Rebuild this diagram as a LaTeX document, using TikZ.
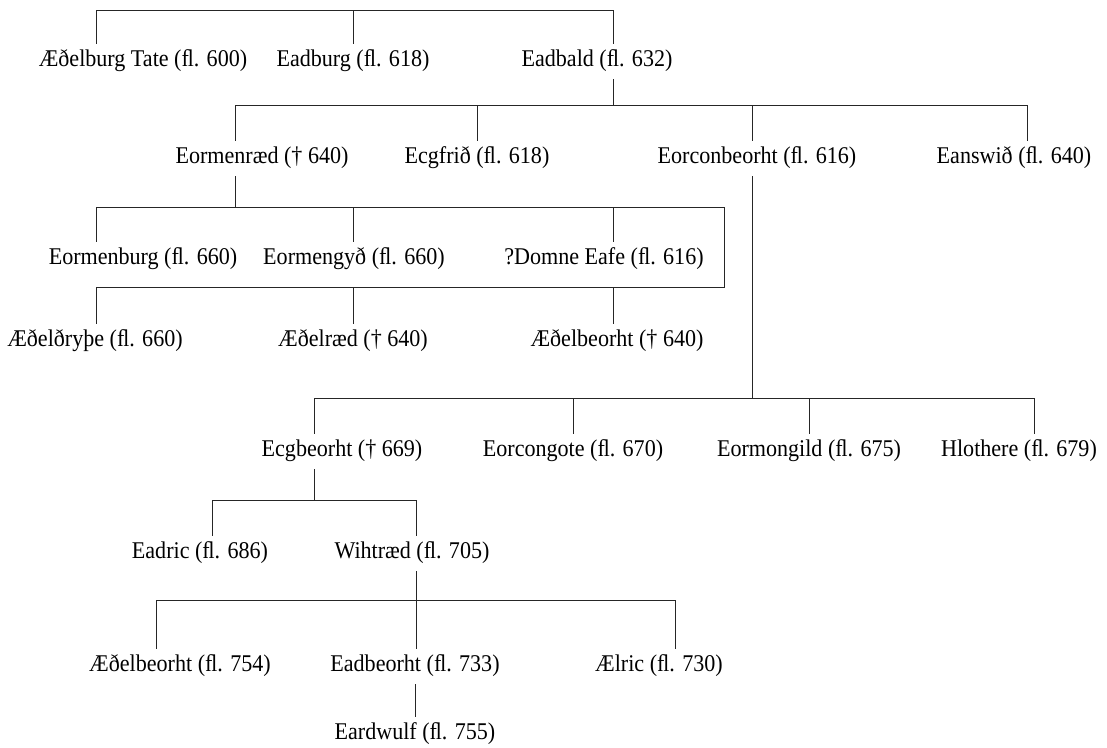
\documentclass[tikz,border=0pt]{standalone}
\usepackage{fontspec}
\setmainfont[FakeStretch=0.92]{Liberation Serif}
\begin{document}
\begin{tikzpicture}[x=1pt,y=-1pt,
  person/.style={inner sep=0pt, font=\fontsize{24}{28}\selectfont},
  link/.style={line width=1pt, draw=black!85},
  drop/.style={shorten >=6pt},
  rise/.style={shorten <=7pt}]
\useasboundingbox (0,0) rectangle (1107,747);
% people
\node[person] (aethelburg) at (143,61) {Æðelburg Tate (ﬂ. 600)};
\node[person] (eadburg) at (353,61) {Eadburg (ﬂ. 618)};
\node[person] (eadbald) at (597,61) {Eadbald (ﬂ. 632)};
\node[person] (eormenraed) at (262,158) {Eormenræd († 640)};
\node[person] (ecgfrid) at (477,158) {Ecgfrið (ﬂ. 618)};
\node[person] (eorconbeorht) at (757,158) {Eorconbeorht (ﬂ. 616)};
\node[person] (eanswid) at (1014,158) {Eanswið (ﬂ. 640)};
\node[person] (eormenburg) at (143,259) {Eormenburg (ﬂ. 660)};
\node[person] (eormengyd) at (354,259) {Eormengyð (ﬂ. 660)};
\node[person] (domne) at (604,259) {?Domne Eafe (ﬂ. 616)};
\node[person] (aethelthryth) at (95,341) {Æðelðryþe (ﬂ. 660)};
\node[person] (aethelraed) at (353,341) {Æðelræd († 640)};
\node[person] (aethelbeorhtA) at (617,341) {Æðelbeorht († 640)};
\node[person] (ecgbeorht) at (342,451) {Ecgbeorht († 669)};
\node[person] (eorcongote) at (573,451) {Eorcongote (ﬂ. 670)};
\node[person] (eormongild) at (809,451) {Eormongild (ﬂ. 675)};
\node[person] (hlothere) at (1019,451) {Hlothere (ﬂ. 679)};
\node[person] (eadric) at (200,553) {Eadric (ﬂ. 686)};
\node[person] (wihtraed) at (412,553) {Wihtræd (ﬂ. 705)};
\node[person] (aethelbeorhtB) at (180,666) {Æðelbeorht (ﬂ. 754)};
\node[person] (eadbeorht) at (415,666) {Eadbeorht (ﬂ. 733)};
\node[person] (aelric) at (659,666) {Ælric (ﬂ. 730)};
\node[person] (eardwulf) at (415,734) {Eardwulf (ﬂ. 755)};
% generation 1
\coordinate (g1L) at (96,10); \coordinate (g1M) at (353,10); \coordinate (g1R) at (613,10);
\draw[link] (g1L) -- (g1R);
\draw[link,drop] (g1L) -- (g1L |- aethelburg.north);
\draw[link,drop] (g1M) -- (g1M |- eadburg.north);
\draw[link,drop] (g1R) -- (g1R |- eadbald.north);
% children of Eadbald
\coordinate (g2L) at (235,105); \coordinate (g2a) at (477,105); \coordinate (g2b) at (752,105); \coordinate (g2R) at (1027,105);
\coordinate (g2up) at (613,105);
\draw[link,rise] (g2up |- eadbald.south) -- (g2up);
\draw[link] (g2L) -- (g2R);
\draw[link,drop] (g2L) -- (g2L |- eormenraed.north);
\draw[link,drop] (g2a) -- (g2a |- ecgfrid.north);
\draw[link,drop] (g2b) -- (g2b |- eorconbeorht.north);
\draw[link,drop] (g2R) -- (g2R |- eanswid.north);
% children of Eormenraed
\coordinate (g3L) at (96,207); \coordinate (g3a) at (353,207); \coordinate (g3b) at (613,207); \coordinate (g3R) at (724,207);
\coordinate (g3up) at (235,207);
\coordinate (g4L) at (96,287); \coordinate (g4a) at (353,287); \coordinate (g4b) at (613,287); \coordinate (g4R) at (724,287);
\draw[link,rise] (g3up |- eormenraed.south) -- (g3up);
\draw[link] (g3L) -- (g3R) -- (g4R) -- (g4L);
\draw[link,drop] (g3L) -- (g3L |- eormenburg.north);
\draw[link,drop] (g3a) -- (g3a |- eormengyd.north);
\draw[link,drop] (g3b) -- (g3b |- domne.north);
\draw[link,drop] (g4L) -- (g4L |- aethelthryth.north);
\draw[link,drop] (g4a) -- (g4a |- aethelraed.north);
\draw[link,drop] (g4b) -- (g4b |- aethelbeorhtA.north);
% children of Eorconbeorht
\coordinate (g5L) at (314,398); \coordinate (g5a) at (573,398); \coordinate (g5b) at (809,398); \coordinate (g5R) at (1034,398);
\coordinate (g5up) at (752,398);
\draw[link,rise] (g5up |- eorconbeorht.south) -- (g5up);
\draw[link] (g5L) -- (g5R);
\draw[link,drop] (g5L) -- (g5L |- ecgbeorht.north);
\draw[link,drop] (g5a) -- (g5a |- eorcongote.north);
\draw[link,drop] (g5b) -- (g5b |- eormongild.north);
\draw[link,drop] (g5R) -- (g5R |- hlothere.north);
% children of Ecgbeorht
\coordinate (g6L) at (212,500); \coordinate (g6R) at (416,500); \coordinate (g6up) at (314,500);
\draw[link,rise] (g6up |- ecgbeorht.south) -- (g6up);
\draw[link] (g6L) -- (g6R);
\draw[link,drop] (g6L) -- (g6L |- eadric.north);
\draw[link,drop] (g6R) -- (g6R |- wihtraed.north);
% children of Wihtraed
\coordinate (g7L) at (156,600); \coordinate (g7M) at (416,600); \coordinate (g7R) at (675,600);
\draw[link] (g7L) -- (g7R);
\draw[link,rise,drop] (g7M |- wihtraed.south) -- (g7M |- eadbeorht.north);
\draw[link,drop] (g7L) -- (g7L |- aethelbeorhtB.north);
\draw[link,drop] (g7R) -- (g7R |- aelric.north);
% child of Eadbeorht
\coordinate (g8) at (415,700);
\draw[link,rise,drop] (g8 |- eadbeorht.south) -- (g8 |- eardwulf.north);
\end{tikzpicture}
\end{document}
